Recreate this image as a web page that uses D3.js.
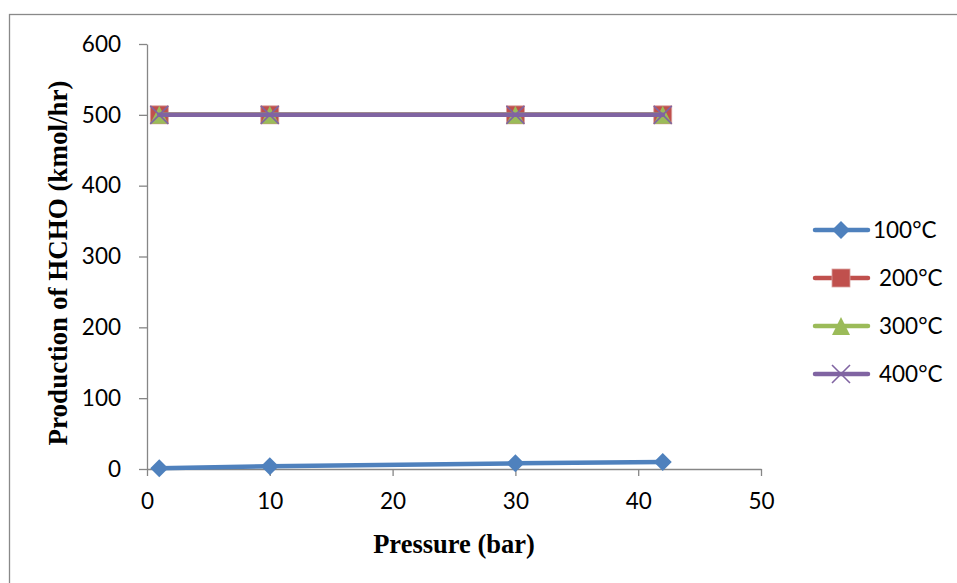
<!DOCTYPE html>
<html><head><meta charset="utf-8">
<script src="https://cdn.jsdelivr.net/npm/d3@7/dist/d3.min.js"></script>
<style>body{margin:0;background:#fff}svg{display:block}</style>
</head><body><svg id="c" width="957" height="583"></svg>
<script>
const pressures = [1, 10, 30, 42];
const seriesNames = ["100°C", "200°C", "300°C", "400°C"];
const values100 = [1, 4, 8, 10];
const values200 = [500, 500, 500, 500];
const values300 = [500, 500, 500, 500];
const values400 = [500, 500, 500, 500];
const xTicks = [0, 10, 20, 30, 40, 50];
const yTicks = [0, 100, 200, 300, 400, 500, 600];
const colors = ["#4F81BD", "#C0504D", "#9BBB59", "#8064A2"];
const shapes = ["diamond", "square", "triangle", "cross"];

const series = [values100, values200, values300, values400].map((v, i) => ({
  name: seriesNames[i], color: colors[i], shape: shapes[i],
  pts: pressures.map((p, j) => ({x: p, y: v[j]}))
}));

const svg = d3.select("#c");
svg.append("rect").attr("x", 9.5).attr("y", 14.5).attr("width", 1000).attr("height", 1000)
  .attr("fill", "none").attr("stroke", "#898989").attr("stroke-width", 1.3);

const x = d3.scaleLinear().domain([0, 50]).range([147, 761]);
const y = d3.scaleLinear().domain([0, 600]).range([469, 44]);
const axisColor = "#868686";
const tickFont = "Lato, 'Open Sans', sans-serif";

const gy = svg.append("g").attr("transform", "translate(147,0)")
  .call(d3.axisLeft(y).tickValues(yTicks).tickSize(8).tickPadding(18).tickSizeOuter(0));
const gx = svg.append("g").attr("transform", "translate(0,469)")
  .call(d3.axisBottom(x).tickValues(xTicks).tickSize(7).tickPadding(17).tickSizeOuter(0));
[gx, gy].forEach(g => {
  g.select(".domain").attr("stroke", axisColor).attr("stroke-width", 1.3);
  g.selectAll(".tick line").attr("stroke", axisColor).attr("stroke-width", 1.3);
  g.selectAll(".tick text").attr("fill", "#000").style("font-family", tickFont).style("font-size", "22.5px");
});

svg.append("text").attr("x", 454).attr("y", 553).attr("text-anchor", "middle")
  .style("font-family", "'Liberation Serif', 'Times New Roman', serif").style("font-weight", "bold")
  .style("font-size", "26.5px").text("Pressure (bar)");
svg.append("text").attr("transform", "translate(67,263) rotate(-90)").attr("text-anchor", "middle")
  .style("font-family", "'Liberation Serif', 'Times New Roman', serif").style("font-weight", "bold")
  .style("font-size", "27px").text("Production of HCHO (kmol/hr)");

function marker(g, shape, color, cx, cy) {
  if (shape === "diamond") {
    g.append("path").attr("d", `M${cx},${cy-9}L${cx+9},${cy}L${cx},${cy+9}L${cx-9},${cy}Z`).attr("fill", color);
  } else if (shape === "square") {
    g.append("rect").attr("x", cx-9).attr("y", cy-9).attr("width", 18).attr("height", 18).attr("fill", color)
      .attr("stroke", "#d9a3a1").attr("stroke-width", 0.8);
  } else if (shape === "triangle") {
    g.append("path").attr("d", `M${cx},${cy-9}L${cx+9},${cy+9}L${cx-9},${cy+9}Z`).attr("fill", color);
  } else {
    g.append("path").attr("d", `M${cx-9},${cy-9}L${cx+9},${cy+9}M${cx+9},${cy-9}L${cx-9},${cy+9}`)
      .attr("stroke", color).attr("stroke-width", 1.6);
  }
}

const line = d3.line().x(d => x(d.x)).y(d => y(d.y));
series.forEach(s => {
  const g = svg.append("g");
  g.append("path").attr("d", line(s.pts)).attr("fill", "none").attr("stroke", s.color)
    .attr("stroke-width", 4.5).attr("stroke-linecap", "round").attr("stroke-linejoin", "round");
  s.pts.forEach(p => marker(g, s.shape, s.color, x(p.x), y(p.y)));
});

// legend
series.forEach((s, i) => {
  const ly = 230 + i * 48;
  const g = svg.append("g");
  g.append("line").attr("x1", 815).attr("x2", 868).attr("y1", ly).attr("y2", ly)
    .attr("stroke", s.color).attr("stroke-width", 4.5).attr("stroke-linecap", "round");
  marker(g, s.shape, s.color, 841, ly);
  g.append("text").attr("x", i === 0 ? 873 : 879).attr("y", ly + 8).style("font-family", tickFont)
    .style("font-size", "22.5px").text(s.name);
});
</script></body></html>
